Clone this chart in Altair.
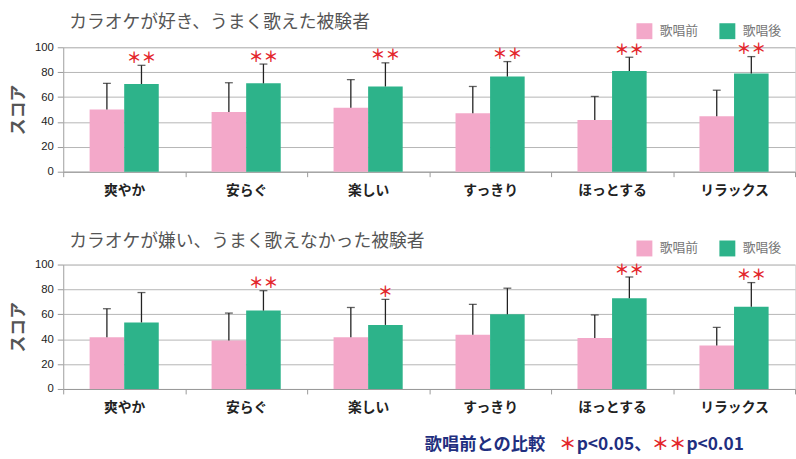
import altair as alt
import pandas as pd

cats = ["爽やか", "安らぐ", "楽しい", "すっきり", "ほっとする", "リラックス"]
phases = ["歌唱前", "歌唱後"]

# Panel 1: カラオケが好き、うまく歌えた被験者
like_pre = [50, 48, 51.5, 47, 41.5, 44.5]
like_pre_sd = [21, 23.5, 22.5, 21.5, 19, 21]
like_post = [70.5, 71, 68.5, 76.5, 81, 79]
like_post_sd = [15, 15.5, 19, 12, 11, 13.5]
like_sig = ["＊＊", "＊＊", "＊＊", "＊＊", "＊＊", "＊＊"]

# Panel 2: カラオケが嫌い、うまく歌えなかった被験者
dis_pre = [41.5, 39, 41.5, 43.5, 41, 35]
dis_pre_sd = [23, 22, 24, 24.5, 18.5, 14.5]
dis_post = [53.5, 63, 51.5, 60, 73, 66]
dis_post_sd = [24, 16, 20.5, 21, 17, 19.5]
dis_sig = ["", "＊＊", "＊", "", "＊＊", "＊＊"]

titles = ["カラオケが好き、うまく歌えた被験者", "カラオケが嫌い、うまく歌えなかった被験者"]

note_texts = ["歌唱前との比較", "＊", "p<0.05、", "＊＊", "p<0.01"]
y_ticks = [0, 20, 40, 60, 80, 100]

PINK = "#f3a8c9"
GREEN = "#2db38a"
JP = "Noto Sans CJK JP"

W, H = 741, 126


def make_df(pre, pre_sd, post, post_sd, sig):
    rows = []
    for i, c in enumerate(cats):
        rows.append({"cat": c, "phase": phases[0], "value": pre[i],
                     "upper": pre[i] + pre_sd[i], "sig": ""})
        rows.append({"cat": c, "phase": phases[1], "value": post[i],
                     "upper": post[i] + post_sd[i], "sig": sig[i]})
    return pd.DataFrame(rows)


Y_AXIS = alt.Axis(values=y_ticks, tickSize=6, labelOverlap=False,
                  tickColor="#999999", domainColor="#aaaaaa",
                  gridColor="#b5b5b5", labelFont="Liberation Sans",
                  labelFontSize=11.5, labelColor="#222222",
                  labelPadding=4,
                  titleFont=JP, titleFontSize=17,
                  titleFontWeight="bold", titleColor="#555555",
                  titlePadding=7)
Y_SCALE = alt.Scale(domain=[0, 100])


def yenc(field):
    return alt.Y(field, title="スコア", scale=Y_SCALE, axis=Y_AXIS)


def panel(df, title, title_y, note=False):
    base = alt.Chart(df).encode(
        x=alt.X("cat:N", sort=cats, title=None,
                scale=alt.Scale(paddingInner=0, paddingOuter=0),
                axis=alt.Axis(labelAngle=0, tickBand="extent", tickSize=5,
                              tickColor="#999999", domainColor="#999999",
                              labelFont=JP, labelFontWeight="bold",
                              labelFontSize=14, labelColor="#222222",
                              labelPadding=7, grid=False)),
        xOffset=alt.XOffset("phase:N", sort=phases,
                            scale=alt.Scale(paddingInner=0, paddingOuter=0.764)),
    )
    bars = base.mark_bar().encode(
        y=yenc("value:Q"),
        color=alt.Color("phase:N", sort=phases,
                        scale=alt.Scale(domain=phases, range=[PINK, GREEN]),
                        legend=alt.Legend(title=None, orient="none",
                                          direction="horizontal",
                                          legendX=580, legendY=-25,
                                          symbolType="square", symbolSize=260,
                                          symbolStrokeWidth=0,
                                          labelFont=JP, labelFontSize=13,
                                          labelColor="#777777",
                                          columnPadding=20, labelOffset=7)),
    )
    err = base.mark_rule(color="#222222", strokeWidth=1.3).encode(
        y=yenc("value:Q"), y2="upper:Q")
    cap = base.mark_tick(color="#222222", orient="horizontal", size=8,
                         thickness=1.3).encode(y=yenc("upper:Q"))
    stars = base.transform_filter(alt.datum.sig != "").mark_text(
        color="#e3262b", font=JP, fontSize=15, fontWeight="bold", dy=-7.5,
        baseline="middle"
    ).encode(y=yenc("upper:Q"), text="sig:N")
    ttl = alt.Chart(pd.DataFrame({"t": [title]})).mark_text(
        align="left", baseline="middle", font=JP, fontSize=18,
        color="#555555"
    ).encode(x=alt.value(6), y=alt.value(title_y), text="t:N")
    layers = [bars, err, cap, stars, ttl]
    if note:
        segs = pd.DataFrame({
            "t": note_texts,
            "x": [366, 502, 520, 596, 631],
            "c": ["n", "r", "n", "r", "n"],
        })
        nt = alt.Chart(segs).mark_text(
            align="left", baseline="middle", font=JP, fontSize=17.5,
            fontWeight="bold"
        ).encode(
            x=alt.X("x:Q", scale=None), y=alt.value(H + 57), text="t:N",
            color=alt.Color("c:N", scale=alt.Scale(domain=["n", "r"],
                                                   range=["#1f2f80", "#e3262b"]),
                            legend=None),
        )
        layers.append(nt)
    ch = alt.layer(*layers).properties(width=W, height=H)
    if note:
        ch = ch.resolve_scale(color="independent")
    return ch


top = panel(make_df(like_pre, like_pre_sd, like_post, like_post_sd, like_sig),
            titles[0], -25)
bottom = panel(make_df(dis_pre, dis_pre_sd, dis_post, dis_post_sd, dis_sig),
               titles[1], -23, note=True)

chart = alt.vconcat(top, bottom, spacing=34).resolve_legend(
    color="independent"
).properties(
    padding={"left": 9, "top": 10, "right": 0, "bottom": 0}
).configure_view(stroke=None).configure(background="white")

chart.save("out.html", embed_options={"renderer": "svg", "actions": False})
